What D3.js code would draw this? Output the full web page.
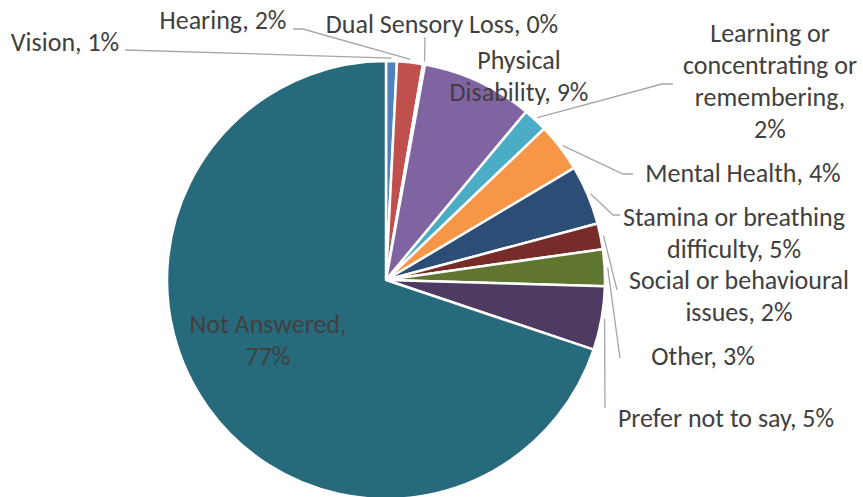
<!DOCTYPE html>
<html>
<head>
<meta charset="utf-8">
<script src="https://cdn.jsdelivr.net/npm/d3@7"></script>
<style>
    body { margin: 0; background: #fff; }
    svg text { font-family: Carlito, Calibri, Lato, sans-serif; fill: #404040; }
</style>
</head>
<body>
<div id="chart"></div>
<script>
// slice names, their share of the pie and the printed labels
var categories = ["Vision", "Hearing", "Dual Sensory Loss", "Physical Disability",
    "Learning or concentrating or remembering", "Mental Health", "Stamina or breathing difficulty",
    "Social or behavioural issues", "Other", "Prefer not to say", "Not Answered"];
var shares = [0.8, 1.9, 0.15, 8.2, 1.8, 3.6, 4.4, 1.9, 2.7, 4.7, 69.85];
var labelPct = ["1%", "2%", "0%", "9%", "2%", "4%", "5%", "2%", "3%", "5%", "77%"];
var colors = ["#4F81BD", "#C0504D", "#9BBB59", "#8064A2", "#4BACC6", "#F79646",
    "#2C4D75", "#772C2A", "#5F7530", "#4D3B62", "#276A7C"];

// label layout: text lines, centre x, first baseline, leader end points
var labelLayout = [
    { lines: ["Vision, 1%"], x: 65, y: 51, leader: [[125, 50]] },
    { lines: ["Hearing, 2%"], x: 223, y: 29, leader: [[303, 29], [293, 29]] },
    { lines: ["Dual Sensory Loss, 0%"], x: 442, y: 33, leader: [[425, 37]] },
    { lines: ["Physical", "Disability, 9%"], x: 519, y: 69, leader: null },
    { lines: ["Learning or", "concentrating or", "remembering,", "2%"], x: 770, y: 42, leader: [[662, 84], [673, 84]] },
    { lines: ["Mental Health, 4%"], x: 743, y: 182, leader: [[623, 174], [633, 174]] },
    { lines: ["Stamina or breathing", "difficulty, 5%"], x: 734, y: 226, leader: [[613, 215], [620, 215]] },
    { lines: ["Social or behavioural", "issues, 2%"], x: 739, y: 289, leader: [[617, 290]] },
    { lines: ["Other, 3%"], x: 703, y: 365, leader: [[620, 358]] },
    { lines: ["Prefer not to say, 5%"], x: 726, y: 427, leader: [[605, 408]] },
    { lines: ["Not Answered,", "77%"], x: 268, y: 333, leader: null }
];

function init() {
    var w = 863;
    var h = 497;
    var cx = 386;
    var cy = 280;
    var r = 219;
    var lineH = 32;

    var svg = d3.select("#chart")
        .append("svg")
        .attr("width", w)
        .attr("height", h);

    var data = categories.map((c, i) => ({ name: c, value: shares[i], i: i }));

    var pie = d3.pie()
        .sort(null)
        .value(d => d.value);

    var arc = d3.arc()
        .innerRadius(0)
        .outerRadius(r);

    var g = svg.append("g")
        .attr("transform", `translate(${cx}, ${cy})`);

    var arcs = pie(data);

    g.selectAll("path")
        .data(arcs)
        .enter()
        .append("path")
        .attr("d", arc)
        .attr("fill", d => colors[d.data.i])
        .attr("stroke", "#fff")
        .attr("stroke-width", 2.5)
        .attr("stroke-linejoin", "round");

    // leader lines, starting just outside the rim at the slice's middle
    var line = d3.line();
    arcs.forEach(d => {
        var lay = labelLayout[d.data.i];
        if (!lay.leader) return;
        var a = (d.startAngle + d.endAngle) / 2;
        var p0 = [cx + (r + 3) * Math.sin(a), cy - (r + 3) * Math.cos(a)];
        svg.append("path")
            .attr("d", line([p0].concat(lay.leader)))
            .attr("fill", "none")
            .attr("stroke", "#A6A6A6")
            .attr("stroke-width", 1.3);
    });

    // data labels
    labelLayout.forEach((lay, i) => {
        var t = svg.append("text")
            .attr("text-anchor", "middle")
            .attr("font-size", 26);
        lay.lines.forEach((s, k) => {
            t.append("tspan")
                .attr("x", lay.x)
                .attr("y", lay.y + k * lineH)
                .text(s);
        });
    });
}

window.onload = init;
</script>
</body>
</html>
